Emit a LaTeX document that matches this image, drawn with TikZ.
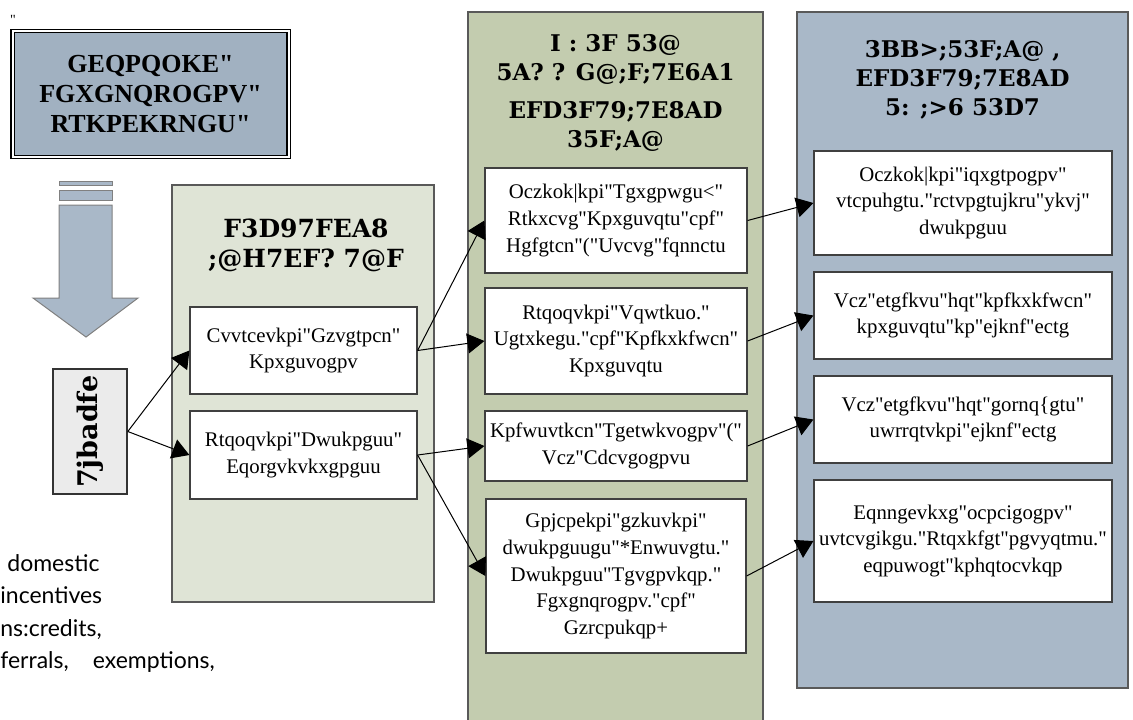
\documentclass[tikz,border=0pt]{standalone}
\usepackage{fontspec}
\setmainfont{Liberation Serif}[Ligatures=TeXOff]
\newfontfamily\notefont{Lato}
\newfontfamily\titlefont{DejaVu Serif}
\usepackage{xcolor}
\usetikzlibrary{arrows.meta}

\definecolor{topfill}{HTML}{A1B1C1}
\definecolor{bluepanel}{HTML}{A9B8C8}
\definecolor{palegreen}{HTML}{DFE4D6}
\definecolor{sage}{HTML}{C3CCAF}
\definecolor{lightbox}{HTML}{EBEBEB}

\begin{document}
\begin{tikzpicture}[x=0.5pt, y=-0.5pt]
    \tikzset{panel/.style={draw=black!65, line width=0.7pt, inner sep=0pt},
             item/.style={draw=black!75, fill=white, line width=0.6pt, align=center, inner xsep=0.5pt, inner ysep=2pt, font=\fontsize{10.4}{13.3}\selectfont},
             paneltitle/.style={align=center, font=\titlefont\bfseries\fontsize{11.5}{14.5}\selectfont},
             link/.style={-{Triangle[length=8.5pt, width=10pt]}, line width=0.5pt},
             note/.style={anchor=base west, inner sep=0pt, font=\notefont\fontsize{11.5}{14}\selectfont}}

    \useasboundingbox (0,0) rectangle (1133,719);

    % panels
    \node[panel, fill=palegreen, minimum width=131pt, minimum height=208.5pt] (stratpanel) at (303,393.5) {};
    \node[panel, fill=sage, minimum width=147.5pt, minimum height=359pt] (econpanel) at (615.5,371) {};
    \node[panel, fill=bluepanel, minimum width=165.5pt, minimum height=338pt] (apppanel) at (962.5,350) {};

    \node[paneltitle, font=\titlefont\bfseries\fontsize{12.5}{15}\selectfont] (strattitle) at (306,245) {F3D97FEA8\\;@H7EF? 7@F};
    \node[paneltitle] (econtitle) at (615.5,93) {I : 3F 53@\\5A? ? G@;F;7E6A1\\[4.5pt]EFD3F79;7E8AD\\35F;A@};
    \node[paneltitle] (apptitle) at (962.5,80) {3BB>;53F;A@ ,\\EFD3F79;7E8AD\\5: ;>6 53D7};

    % heading box and arrow
    \node at (13,20) {\fontsize{7}{8}\selectfont "};
    \node[draw=black, line width=0.7pt, double=white, double distance=1pt, fill=topfill, minimum width=138pt, minimum height=63pt, align=center, font=\bfseries\fontsize{13}{15}\selectfont] (heading) at (150.5,94) {GEQPQOKE"\\FGXGNQROGPV"\\RTKPEKRNGU"};

    \draw[fill=bluepanel, draw=black!50, line width=0.5pt] (59,181) rectangle (112,185);
    \draw[fill=bluepanel, draw=black!50, line width=0.5pt] (59,190) rectangle (112,200);
    \draw[fill=bluepanel, draw=black!50, line width=0.5pt] (59,205) -- (112,205) -- (112,298) -- (138,298) -- (86,337) -- (33,298) -- (59,298) -- cycle;

    \node[draw=black!80, line width=0.8pt, fill=lightbox, minimum width=37pt, minimum height=62.5pt, inner sep=0pt] (sector) at (90,431.5) {\rotatebox{90}{\titlefont\bfseries\fontsize{13.5}{15}\selectfont 7jbadfe}};

    % strategy boxes
    \node[item, minimum width=113.5pt, minimum height=43.5pt] (attract) at (303.5,350.5) {Cvvtcevkpi"Gzvgtpcn"\\Kpxguvogpv};
    \node[item, minimum width=113.5pt, minimum height=44pt] (promote) at (303.5,455) {Rtqoqvkpi"Dwukpguu"\\Eqorgvkvkxgpguu};

    % economic development boxes
    \node[item, minimum width=131pt, minimum height=52.5pt] (maxrev) at (616,220.5) {Oczkok|kpi"Tgxgpwgu<"\\Rtkxcvg"Kpxguvqtu"cpf"\\Hgfgtcn"("Uvcvg"fqnnctu};
    \node[item, minimum width=131pt, minimum height=53pt] (tourism) at (616,341) {Rtqoqvkpi"Vqwtkuo."\\Ugtxkegu."cpf"Kpfkxkfwcn"\\Kpxguvqtu};
    \node[item, minimum width=131pt, minimum height=35pt] (recruit) at (616,446) {Kpfwuvtkcn"Tgetwkvogpv"("\\Vcz"Cdcvgogpvu};
    \node[item, minimum width=130pt, minimum height=77pt] (enhance) at (616,576) {Gpjcpekpi"gzkuvkpi"\\dwukpguugu"*Enwuvgtu."\\Dwukpguu"Tgvgpvkqp."\\Fgxgnqrogpv."cpf"\\Gzrcpukqp+};

    % application boxes
    \node[item, minimum width=149pt, minimum height=52pt] (govtrans) at (963,203) {Oczkok|kpi"iqxgtpogpv"\\vtcpuhgtu."rctvpgtujkru"ykvj"\\dwukpguu};
    \node[item, minimum width=149pt, minimum height=43.5pt] (investcredit) at (963,315.5) {Vcz"etgfkvu"hqt"kpfkxkfwcn"\\kpxguvqtu"kp"ejknf"ectg};
    \node[item, minimum width=149pt, minimum height=43.5pt] (employcredit) at (963,419.5) {Vcz"etgfkvu"hqt"gornq\{gtu"\\uwrrqtvkpi"ejknf"ectg};
    \node[item, minimum width=149pt, minimum height=61pt] (collective) at (963,541) {Eqnngevkxg"ocpcigogpv"\\uvtcvgikgu."Rtqxkfgt"pgvyqtmu."\\eqpuwogt"kphqtocvkqp};

    % connectors
    \draw[link] (sector.east) -- (attract.west);
    \draw[link] (sector.east) -- (promote.west);
    \draw[link] (attract.east) -- (maxrev.west);
    \draw[link] (attract.east) -- (tourism.west);
    \draw[link] (promote.east) -- (recruit.west);
    \draw[link] (promote.east) -- (enhance.west);
    \draw[link] (maxrev.east) -- (govtrans.west);
    \draw[link] (tourism.east) -- (investcredit.west);
    \draw[link] (recruit.east) -- (employcredit.west);
    \draw[link] (enhance.east) -- (collective.west);

    % cut-off notes
    \node[note] (note1) at (7,571) {domestic};
    \node[note] (note2) at (0,603) {incentives};
    \node[note] (note3) at (0,636) {ns:credits,};
    \node[note] (note4) at (0,668) {ferrals,\hspace{12pt}exemptions,};
\end{tikzpicture}
\end{document}
